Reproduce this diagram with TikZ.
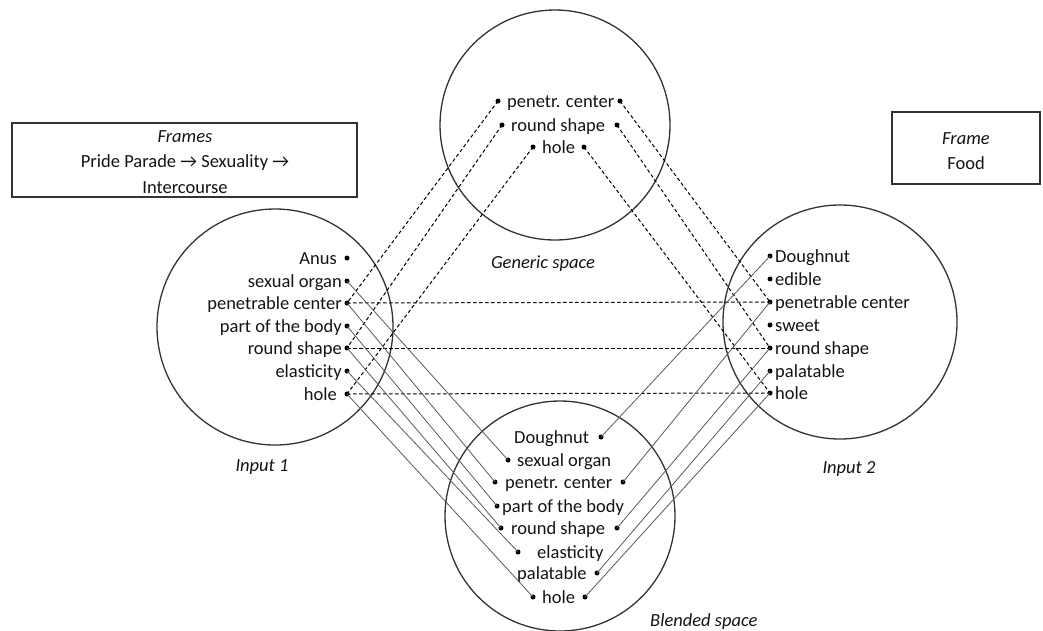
\documentclass[tikz,border=0pt]{standalone}
\usepackage{fontspec}
\setmainfont{Carlito}
\begin{document}
\begin{tikzpicture}[x=1pt,y=-1pt,
  txt/.style={inner sep=0pt, font=\fontsize{18.5}{22}\selectfont, text=black!92},
  lbl/.style={inner sep=0pt, font=\fontsize{18.5}{22}\selectfont\itshape, text=black!92},
  dot/.style={circle, fill=black, inner sep=0pt, minimum size=5pt},
  spacec/.style={circle, draw=black!80, line width=1.3pt, inner sep=0pt},
  sol/.style={draw=black!65, line width=0.8pt},
  dsh/.style={draw=black, line width=1pt, dash pattern=on 3.5pt off 2.5pt},
  framebox/.style={draw=black!80, line width=1.1pt}]
\useasboundingbox (0,0) rectangle (1043,630);
% circles
\node[spacec, minimum size=230pt] (gen) at (555,125) {};
\node[spacec, minimum size=236pt] (in1) at (275,327) {};
\node[spacec, minimum size=234pt] (in2) at (840,322) {};
\node[spacec, minimum size=230pt] (bl) at (560,516) {};
% labels
\node[lbl, anchor=base] (lgen) at (543,268) {Generic space};
\node[lbl, anchor=base] (lin1) at (262,471) {Input 1};
\node[lbl, anchor=base] (lin2) at (849,473) {Input 2};
\node[lbl, anchor=base west] (lbl) at (650,626) {Blended space};
% frame boxes
\draw[framebox] (12,123) rectangle (357,197);
\node[lbl, anchor=base] (fr1) at (185,142) {Frames};
\node[txt, anchor=base] (fr2) at (185,167) {Pride Parade → Sexuality →};
\node[txt, anchor=base] (fr3) at (185,193) {Intercourse};
\draw[framebox] (892,112) rectangle (1040,184);
\node[lbl, anchor=base] (fo1) at (966,144) {Frame};
\node[txt, anchor=base] (fo2) at (966,169) {Food};
% generic space
\node[dot] (gpcL) at (498,101) {};
\node[txt, anchor=base west] (tgpc) at (507,107) {penetr. center};
\node[dot] (gpcR) at (620,101) {};
\node[dot] (grsL) at (502,125) {};
\node[txt, anchor=base west] (tgrs) at (511,131) {round shape};
\node[dot] (grsR) at (617,125) {};
\node[dot] (ghL) at (533,147) {};
\node[txt, anchor=base west] (tgh) at (542,153) {hole};
\node[dot] (ghR) at (584,147) {};
% input 1
\node[dot] (aan) at (347,258) {};
\node[txt, anchor=base east] (taan) at (337,264) {Anus};
\node[dot] (aso) at (347,281) {};
\node[txt, anchor=base east] (taso) at (342,287) {sexual organ};
\node[dot] (apc) at (347,303) {};
\node[txt, anchor=base east] (tapc) at (342,309) {penetrable center};
\node[dot] (apb) at (347,326) {};
\node[txt, anchor=base east] (tapb) at (342,332) {part of the body};
\node[dot] (ars) at (347,348) {};
\node[txt, anchor=base east] (tars) at (342,354) {round shape};
\node[dot] (ael) at (347,371) {};
\node[txt, anchor=base east] (tael) at (342,377) {elasticity};
\node[dot] (ah) at (347,394) {};
\node[txt, anchor=base east] (tah) at (337,400) {hole};
% input 2
\node[dot] (bd) at (770,256) {};
\node[txt, anchor=base west] (tbd) at (775,262) {Doughnut};
\node[dot] (bed) at (770,279) {};
\node[txt, anchor=base west] (tbed) at (775,285) {edible};
\node[dot] (bpc) at (770,302) {};
\node[txt, anchor=base west] (tbpc) at (775,308) {penetrable center};
\node[dot] (bsw) at (770,325) {};
\node[txt, anchor=base west] (tbsw) at (775,331) {sweet};
\node[dot] (brs) at (770,348) {};
\node[txt, anchor=base west] (tbrs) at (775,354) {round shape};
\node[dot] (bpa) at (770,371) {};
\node[txt, anchor=base west] (tbpa) at (775,377) {palatable};
\node[dot] (bh) at (770,393) {};
\node[txt, anchor=base west] (tbh) at (775,399) {hole};
% blended
\node[txt, anchor=base west] (tcd) at (514,443) {Doughnut};
\node[dot] (cdR) at (601,437) {};
\node[dot] (csoL) at (508,460) {};
\node[txt, anchor=base west] (tcso) at (517,466) {sexual organ};
\node[dot] (cpcL) at (495,482) {};
\node[txt, anchor=base west] (tcpc) at (505,488) {penetr. center};
\node[dot] (cpcR) at (623,482) {};
\node[dot] (cpbL) at (497,506) {};
\node[txt, anchor=base west] (tcpb) at (502,512) {part of the body};
\node[dot] (crsL) at (501,528) {};
\node[txt, anchor=base west] (tcrs) at (511,534) {round shape};
\node[dot] (crsR) at (617,528) {};
\node[dot] (celL) at (518,552) {};
\node[txt, anchor=base west] (tcel) at (537,558) {elasticity};
\node[txt, anchor=base west] (tcpa) at (517,579) {palatable};
\node[dot] (cpaR) at (597,573) {};
\node[dot] (chL) at (533,597) {};
\node[txt, anchor=base west] (tch) at (542,603) {hole};
\node[dot] (chR) at (585,597) {};
% dashed connectors
\draw[dsh] (gpcL.center) -- (apc.center);
\draw[dsh] (grsL.center) -- (ars.center);
\draw[dsh] (ghL.center) -- (ah.center);
\draw[dsh] (gpcR.center) -- (bpc.center);
\draw[dsh] (grsR.center) -- (brs.center);
\draw[dsh] (ghR.center) -- (bh.center);
\draw[dsh] (apc.center) -- (bpc.center);
\draw[dsh] (ars.center) -- (brs.center);
\draw[dsh] (ah.center) -- (bh.center);
% solid connectors
\draw[sol] (aso.center) -- (csoL.center);
\draw[sol] (apc.center) -- (cpcL.center);
\draw[sol] (apb.center) -- (cpbL.center);
\draw[sol] (ars.center) -- (crsL.center);
\draw[sol] (ael.center) -- (celL.center);
\draw[sol] (ah.center) -- (chL.center);
\draw[sol] (bd.center) -- (cdR.center);
\draw[sol] (bpc.center) -- (cpcR.center);
\draw[sol] (brs.center) -- (crsR.center);
\draw[sol] (bpa.center) -- (cpaR.center);
\draw[sol] (bh.center) -- (chR.center);
\end{tikzpicture}
\end{document}
